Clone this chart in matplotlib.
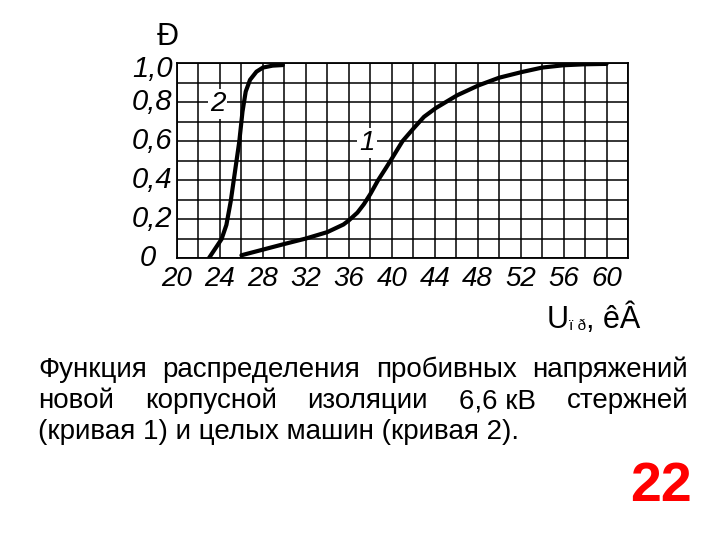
#!/usr/bin/env python3
"""Breakdown voltage distribution functions, curves 1 and 2."""

import matplotlib

matplotlib.use('Agg')
import matplotlib.pyplot as plt
import numpy as np

# curve 1: new 6,6 kV bar insulation
u1 = [26.0, 28.0, 30.0, 32.0, 34.0, 35.5, 36.0, 36.8, 37.4, 38.0, 38.7,
      39.5, 40.0, 41.0, 42.1, 43.0, 44.1, 46.1, 48.1, 50.0, 52.1, 54.0,
      56.0, 58.0, 60.0]
p1 = [0.014, 0.043, 0.072, 0.10, 0.133, 0.172, 0.193, 0.233, 0.276, 0.328,
      0.397, 0.466, 0.51, 0.60, 0.67, 0.725, 0.77, 0.836, 0.887, 0.926,
      0.955, 0.978, 0.99, 0.995, 0.997]

# curve 2: whole machines
u2 = [22.98, 24.15, 24.6, 25.0, 25.4, 25.8, 26.1, 26.4, 26.8, 27.4, 28.0,
      28.9, 29.85]
p2 = [0.0, 0.097, 0.17, 0.29, 0.444, 0.598, 0.752, 0.855, 0.915, 0.957,
      0.978, 0.988, 0.991]

x_ticks = list(range(20, 61, 4))
y_ticks = [0, 0.2, 0.4, 0.6, 0.8, 1.0]
y_tick_labels = ['0', '0,2', '0,4', '0,6', '0,8', '1,0']

caption = [
    'Функция распределения пробивных напряжений',
    'новой корпусной изоляции 6,6\u00a0кВ стержней',
    '(кривая 1) и целых машин (кривая 2).',
]
page_no = '22'

W, H = 720, 540
FONT = 'Liberation Sans'


def fx(x):
    return x / W


def fy(y):
    return 1 - y / H


fig = plt.figure(figsize=(7.2, 5.4), dpi=100)
ax = fig.add_axes([fx(177), fy(258), fx(628) - fx(177), fy(63.3) - fy(258)])

ax.set_xlim(20, 62)
ax.set_ylim(0, 1)
ax.set_xticks(x_ticks)
ax.set_xticklabels([str(v) for v in x_ticks], fontsize=20, style='italic',
                   family=FONT)
ax.set_xticks(np.arange(20, 63, 2), minor=True)
ax.set_yticks(np.arange(0, 1.01, 0.1))
ax.set_yticklabels([])
ax.tick_params(which='both', length=0, pad=6)
ax.grid(which='both', color='black', linewidth=1.1)
for s in ax.spines.values():
    s.set_linewidth(1.3)

ax.plot(u1, p1, color='black', linewidth=3, solid_capstyle='round',
        solid_joinstyle='round')
ax.plot(u2, p2, color='black', linewidth=3, solid_capstyle='round',
        solid_joinstyle='round')

# y tick labels drawn by hand (the 0 and 1,0 sit off the usual spot)
ytr = ax.get_yaxis_transform()
for v, lab in zip(y_ticks, y_tick_labels):
    if lab == '0':
        ax.text(-0.064, v, lab, transform=ytr, ha='center', va='center',
                fontsize=21, style='italic', family=FONT)
    elif lab == '1,0':
        ax.annotate(lab, (-0.01, v), xycoords=ytr, xytext=(0, -4),
                    textcoords='offset points', ha='right', va='center',
                    fontsize=21, style='italic', family=FONT)
    else:
        ax.text(-0.01, v, lab, transform=ytr, ha='right', va='center',
                fontsize=21, style='italic', family=FONT)

box = dict(facecolor='white', edgecolor='none', pad=1.5)
ax.text(23.8, 0.79, '2', ha='center', va='center', fontsize=20,
        style='italic', family=FONT, bbox=box)
ax.text(37.7, 0.59, '1', ha='center', va='center', fontsize=20,
        style='italic', family=FONT, bbox=box)

# axis names (kept as they appear in the source)
fig.text(fx(168), fy(37), 'Đ', ha='center', va='center', fontsize=22,
         family=FONT)
fig.text(fx(547), fy(328), 'U', ha='left', va='baseline', fontsize=22,
         family=FONT)
fig.text(fx(569), fy(330), 'ï ð', ha='left', va='baseline', fontsize=11,
         family=FONT)
fig.text(fx(586), fy(328), ', êÂ', ha='left', va='baseline', fontsize=22,
         family=FONT)

# caption, first two lines justified
fig.canvas.draw()
renderer = fig.canvas.get_renderer()
x0, x1 = 38, 688
baselines = [377, 408, 439]
for i, (line, y) in enumerate(zip(caption, baselines)):
    if i < 2:
        words = line.split(' ')
        texts = [fig.text(0, fy(y), w, ha='left', va='baseline', fontsize=20,
                          family=FONT) for w in words]
        widths = [t.get_window_extent(renderer).width for t in texts]
        gap = (x1 - x0 - sum(widths)) / (len(words) - 1)
        x = x0
        for t, w in zip(texts, widths):
            t.set_x(fx(x))
            x += w + gap
    else:
        fig.text(fx(x0), fy(y), line, ha='left', va='baseline', fontsize=20,
                 family=FONT)

fig.text(fx(692), fy(501), page_no, ha='right', va='baseline', fontsize=40,
         fontweight='bold', color='#ff0000', family=FONT)

fig.savefig('out.png', dpi=100)
